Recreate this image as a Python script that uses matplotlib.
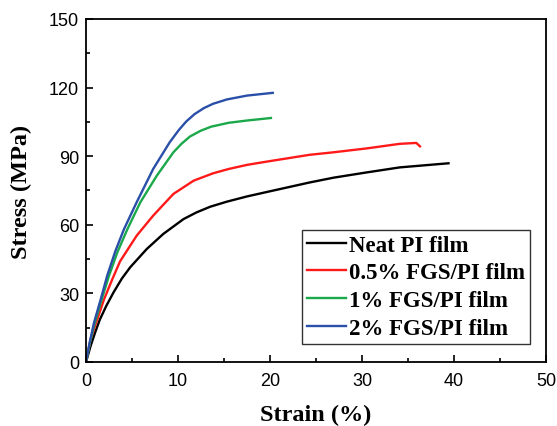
import numpy as np
import matplotlib.pyplot as plt

# stress-strain data
neat_strain = [0, 0.5, 1.0, 1.5, 2.2, 3.0, 3.9, 4.8, 6.6, 8.4, 10.6, 12.0, 13.5, 15.3,
               17.5, 19.6, 24.3, 26.9, 30.5, 34.1, 39.4]
neat_stress = [0, 7, 13, 18.5, 24.5, 30.5, 36.5, 41.4, 49.4, 56, 62.5, 65.4, 67.9, 70.1,
               72.4, 74.3, 78.5, 80.6, 82.9, 85.1, 86.9]

fgs05_strain = [0, 0.5, 1.23, 1.96, 2.86, 3.7, 5.5, 7.3, 9.5, 11.7, 13.8, 15.5,
                17.5, 19.6, 24.3, 26.9, 30.5, 34.1, 35.9, 36.3]
fgs05_stress = [0, 9.9, 18.7, 27.4, 36.2, 44, 55.2, 64, 73.5, 79.3, 82.5, 84.4,
                86.2, 87.6, 90.6, 91.7, 93.4, 95.4, 95.8, 94.3]

fgs1_strain = [0, 0.4, 0.87, 1.6, 2.5, 3.4, 4.5, 5.9, 7.7, 9.5, 10.4, 11.3, 12.5,
               13.6, 15.5, 17.5, 20.1]
fgs1_stress = [0, 8, 15.8, 26, 37.7, 47.9, 58.1, 69.8, 81.5, 91.7, 95.5, 98.6, 101.2,
               102.9, 104.6, 105.6, 106.7]

fgs2_strain = [0, 0.4, 0.87, 1.6, 2.3, 3.2, 4.13, 5.5, 7.3, 9.1, 10.1, 10.9, 11.8,
               12.8, 13.8, 15.3, 17.5, 20.3]
fgs2_stress = [0, 8.5, 17.2, 27.4, 37.7, 48.6, 58.1, 69.8, 84.4, 96.1, 101.5, 105.2, 108.4,
               111, 112.9, 114.8, 116.5, 117.7]

labels = ["Neat PI film", "0.5% FGS/PI film", "1% FGS/PI film", "2% FGS/PI film"]
colors = ["#000000", "#ff1a1a", "#1aa84a", "#2a4fa8"]

fig = plt.figure(figsize=(5.57, 4.27), dpi=100)
ax = fig.add_axes([0.1544, 0.1499, 0.8259, 0.8033])

series = [(neat_strain, neat_stress), (fgs05_strain, fgs05_stress),
          (fgs1_strain, fgs1_stress), (fgs2_strain, fgs2_stress)]
for (x, y), lab, c in zip(series, labels, colors):
    ax.plot(x, y, color=c, lw=1.7, label=lab, solid_joinstyle='round')

ax.set_xlim(0, 50)
ax.set_ylim(0, 150)
ax.set_xticks([0, 10, 20, 30, 40, 50])
ax.set_xticks([5, 15, 25, 35, 45], minor=True)
ax.set_yticks([0, 30, 60, 90, 120, 150])
ax.set_yticks([15, 45, 75, 105, 135], minor=True)
ax.tick_params(which='both', direction='in', top=False, right=False)
ax.tick_params(which='major', length=5, width=1.2, labelsize=13)
ax.tick_params(axis='x', which='major', pad=7)
ax.tick_params(axis='y', which='major', pad=5)
ax.tick_params(which='minor', length=3, width=1.2)
for lbl in ax.get_xticklabels() + ax.get_yticklabels():
    lbl.set_family('Liberation Sans')
for s in ax.spines.values():
    s.set_linewidth(1.3)

ax.set_xlabel('Strain (%)', family='Liberation Serif', weight='bold', fontsize=17.5, labelpad=11)
ax.set_ylabel('Stress (MPa)', family='Liberation Serif', weight='bold', fontsize=17.5, labelpad=12)

leg = ax.legend(loc='upper left', bbox_to_anchor=(0.47, 0.385), borderaxespad=0,
                prop={'family': 'Liberation Serif', 'weight': 'bold', 'size': 16.5},
                frameon=True, fancybox=False, handlelength=1.7, handletextpad=0.15,
                borderpad=0.2, labelspacing=0.3)
leg.get_frame().set_edgecolor('black')
leg.get_frame().set_linewidth(1.0)
for line in leg.get_lines():
    line.set_linewidth(1.7)

fig.savefig('out.png', dpi=100)
